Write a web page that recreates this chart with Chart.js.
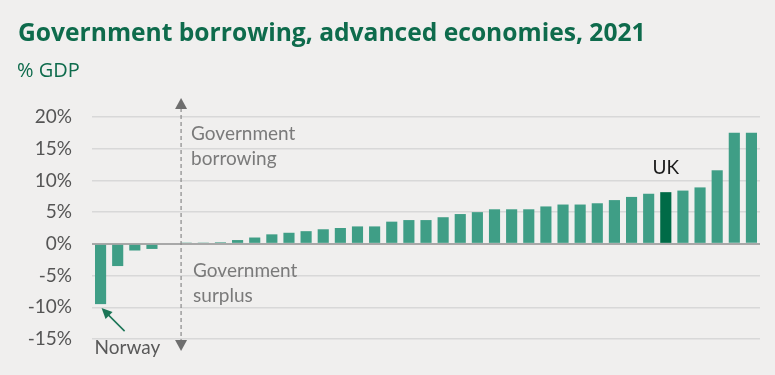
<!DOCTYPE html>
<html>
<head>
<meta charset="utf-8">
<script src="https://cdn.jsdelivr.net/npm/chart.js@4"></script>
<style>
  html, body { margin: 0; padding: 0; background: #f0efee; }
  #wrap { width: 775px; height: 375px; position: relative; }
</style>
</head>
<body>
<div id="wrap"><canvas id="grafico"></canvas></div>
<script>
// Datos
const titulo = "Government borrowing, advanced economies, 2021";
const subtitulo = "% GDP";
const paises = ["Norway", "c2", "c3", "c4", "c5", "c6", "c7", "c8", "c9", "c10",
  "c11", "c12", "c13", "c14", "c15", "c16", "c17", "c18", "c19", "c20",
  "c21", "c22", "c23", "c24", "c25", "c26", "c27", "c28", "c29", "c30",
  "c31", "c32", "c33", "UK", "c35", "c36", "c37", "c38", "c39"];
const valores = [-9.5, -3.5, -1.05, -0.8, 0, 0.2, 0.2, 0.25, 0.6, 1.0,
  1.5, 1.75, 2.0, 2.3, 2.5, 2.75, 2.75, 3.5, 3.75, 3.75,
  4.2, 4.7, 5.0, 5.45, 5.45, 5.45, 5.9, 6.2, 6.2, 6.4,
  6.9, 7.4, 7.9, 8.15, 8.4, 8.9, 11.6, 17.5, 17.5];
const ticksY = [-15, -10, -5, 0, 5, 10, 15, 20];

const verde = "#3f9e86";
const verdeUK = "#006b47";
const verdeTitulo = "#0e6b4c";
const gris = "#7a7a7a";

const colores = paises.map((p) => p == "UK" ? verdeUK : verde);

// Plugin para fondo, titulos y anotaciones
const anotaciones = {
  id: "anotaciones",
  beforeDraw(chart) {
    const ctx = chart.ctx;
    ctx.save();
    ctx.fillStyle = "#f0efee";
    ctx.fillRect(0, 0, chart.width, chart.height);
    ctx.restore();
  },
  afterDraw(chart) {
    const ctx = chart.ctx;
    const x = chart.scales.x;
    const y = chart.scales.y;
    ctx.save();

    // titulo
    ctx.fillStyle = verdeTitulo;
    ctx.textBaseline = "alphabetic";
    ctx.textAlign = "left";
    ctx.font = "bold 24.6px 'Open Sans'";
    ctx.fillText(titulo, 18, 41);
    ctx.font = "20px 'Open Sans'";
    ctx.fillText(subtitulo, 17, 77);

    // flecha vertical punteada
    const xa = (x.getPixelForValue(3) + x.getPixelForValue(5)) / 2 + 12;
    const arriba = 98, abajo = 351;
    ctx.strokeStyle = "#8a8a8a";
    ctx.lineWidth = 1.2;
    ctx.setLineDash([4, 3]);
    ctx.beginPath();
    ctx.moveTo(xa, arriba + 10);
    ctx.lineTo(xa, abajo - 10);
    ctx.stroke();
    ctx.setLineDash([]);
    ctx.fillStyle = "#6e6e6e";
    ctx.beginPath();
    ctx.moveTo(xa, arriba);
    ctx.lineTo(xa - 6, arriba + 11);
    ctx.lineTo(xa + 6, arriba + 11);
    ctx.closePath();
    ctx.fill();
    ctx.beginPath();
    ctx.moveTo(xa, abajo);
    ctx.lineTo(xa - 6, abajo - 11);
    ctx.lineTo(xa + 6, abajo - 11);
    ctx.closePath();
    ctx.fill();

    // textos de la flecha
    ctx.fillStyle = gris;
    ctx.font = "19px Lato";
    ctx.fillText("Government", xa + 10, 140);
    ctx.fillText("borrowing", xa + 10, 165);
    ctx.fillText("Government", xa + 12, 277);
    ctx.fillText("surplus", xa + 12, 302);

    // Norway
    const xn = x.getPixelForValue(0);
    const yn = y.getPixelForValue(valores[0]);
    ctx.fillStyle = "#595959";
    ctx.fillText("Norway", xn - 6, 354);
    ctx.strokeStyle = "#1b7556";
    ctx.fillStyle = "#1b7556";
    ctx.lineWidth = 1.5;
    ctx.beginPath();
    ctx.moveTo(xn + 24, yn + 27);
    ctx.lineTo(xn + 5, yn + 8);
    ctx.stroke();
    ctx.beginPath();
    ctx.moveTo(xn + 1, yn + 4);
    ctx.lineTo(xn + 12, yn + 8);
    ctx.lineTo(xn + 5, yn + 15);
    ctx.closePath();
    ctx.fill();

    // UK
    const iUK = paises.indexOf("UK");
    ctx.fillStyle = "#1a1a1a";
    ctx.textAlign = "center";
    ctx.font = "19px Lato";
    ctx.fillText("UK", x.getPixelForValue(iUK), y.getPixelForValue(valores[iUK]) - 18);

    ctx.restore();
  }
};

const config = {
  type: "bar",
  data: {
    labels: paises,
    datasets: [{
      data: valores,
      backgroundColor: colores,
      borderWidth: 0,
      barPercentage: 0.65,
      categoryPercentage: 1
    }]
  },
  options: {
    responsive: true,
    maintainAspectRatio: false,
    animation: false,
    layout: { padding: { top: 117, right: 15, bottom: 36, left: 0 } },
    plugins: { legend: { display: false }, tooltip: { enabled: false } },
    scales: {
      x: { display: false },
      y: {
        min: -15,
        max: 20,
        afterBuildTicks: (s) => { s.ticks = ticksY.map((v) => ({ value: v })); },
        afterFit: (s) => { s.width = 92; },
        border: { display: false },
        grid: {
          color: (c) => c.tick.value == 0 ? "#a8a8a8" : "#d8d8d8",
          lineWidth: (c) => c.tick.value == 0 ? 2 : 1.5,
          drawTicks: false
        },
        ticks: {
          padding: 20,
          color: "#555555",
          font: { family: "Lato", size: 19 },
          callback: (v) => v + "%"
        }
      }
    }
  },
  plugins: [anotaciones]
};

new Chart(document.getElementById("grafico"), config);
</script>
</body>
</html>
